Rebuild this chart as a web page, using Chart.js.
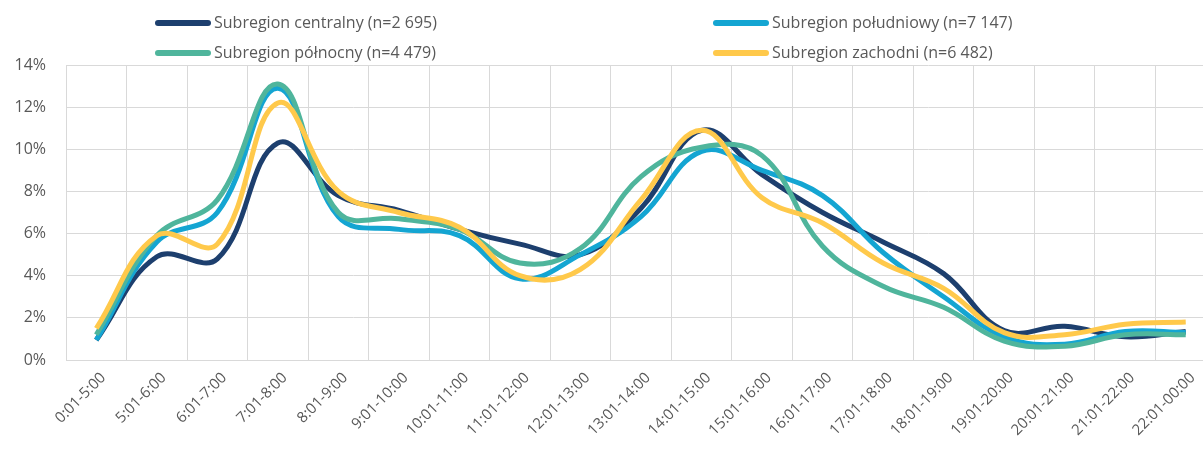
<!DOCTYPE html>
<html>
<head>
<meta charset="utf-8">
<script src="https://cdn.jsdelivr.net/npm/chart.js@4.4.0/dist/chart.umd.min.js"></script>
<style>
  body { margin: 0; overflow: hidden; background: #fff; width: 1203px; height: 463px; position: relative; }
  #wrap { position: absolute; left: 0; top: 0; width: 1235px; height: 463px; }
  .leg { position: absolute; font-family: "Open Sans", sans-serif; font-size: 16px; color: #595959; white-space: nowrap; line-height: 20px; }
  .leg span.sw { display: inline-block; width: 56px; height: 6px; border-radius: 3px; vertical-align: middle; margin-right: 3px; position: relative; top: -1px; }
</style>
</head>
<body>
<div id="wrap"><canvas id="line-chart"></canvas></div>
<div class="leg" style="left:155px; top:12px;"><span class="sw" style="background:#1D3F6E"></span>Subregion centralny (n=2 695)</div>
<div class="leg" style="left:713px; top:12px;"><span class="sw" style="background:#14A5D2"></span>Subregion południowy (n=7 147)</div>
<div class="leg" style="left:155px; top:42px;"><span class="sw" style="background:#4FB59C"></span>Subregion północny (n=4 479)</div>
<div class="leg" style="left:713px; top:42px;"><span class="sw" style="background:#FFC94B"></span>Subregion zachodni (n=6 482)</div>
<script>
// categories and series (percent)
var hours = ["0:01-5:00", "5:01-6:00", "6:01-7:00", "7:01-8:00", "8:01-9:00", "9:01-10:00",
  "10:01-11:00", "11:01-12:00", "12:01-13:00", "13:01-14:00", "14:01-15:00", "15:01-16:00",
  "16:01-17:00", "17:01-18:00", "18:01-19:00", "19:01-20:00", "20:01-21:00", "21:01-22:00", "22:01-00:00"];
var centralny = [0.95, 4.9, 4.8, 10.3, 7.8, 7.1, 6.2, 5.5, 5.0, 7.2, 10.9, 8.8, 7.0, 5.6, 4.1, 1.4, 1.6, 1.1, 1.35];
var poludniowy = [0.95, 5.6, 7.0, 12.9, 6.8, 6.2, 5.9, 3.85, 5.0, 6.8, 9.9, 9.0, 7.8, 5.1, 3.0, 1.1, 0.75, 1.35, 1.3];
var polnocny = [1.2, 5.9, 7.6, 13.1, 7.0, 6.7, 6.2, 4.6, 5.3, 8.7, 10.1, 9.7, 5.4, 3.5, 2.5, 0.9, 0.65, 1.2, 1.2];
var zachodni = [1.5, 5.9, 5.5, 12.2, 8.0, 7.0, 6.3, 4.0, 4.3, 7.6, 10.9, 7.7, 6.5, 4.6, 3.4, 1.3, 1.2, 1.7, 1.8];
var yTicks = [0, 2, 4, 6, 8, 10, 12, 14];

function series(label, values, color, order) {
  return {
    label: label,
    data: values,
    borderColor: color,
    backgroundColor: color,
    borderWidth: 5,
    pointRadius: 0,
    tension: 0.4,
    fill: false,
    order: order,
  };
}

var ctx = document.getElementById("line-chart").getContext("2d");
var myLineChart = new Chart(ctx, {
  type: "line",
  data: {
    labels: hours,
    datasets: [
      series("Subregion centralny (n=2 695)", centralny, "#1D3F6E", 4),
      series("Subregion południowy (n=7 147)", poludniowy, "#14A5D2", 3),
      series("Subregion północny (n=4 479)", polnocny, "#4FB59C", 2),
      series("Subregion zachodni (n=6 482)", zachodni, "#FFC94B", 1),
    ],
  },
  options: {
    responsive: true,
    maintainAspectRatio: false,
    animation: false,
    layout: {
      padding: { top: 65, right: 19, bottom: 0, left: 0 },
    },
    plugins: {
      legend: { display: false },
      title: { display: false },
      tooltip: { enabled: false },
    },
    scales: {
      x: {
        offset: true,
        grid: {
          offset: true,
          color: "#d9d9d9",
          drawTicks: false,
        },
        border: { color: "#d9d9d9" },
        ticks: {
          color: "#595959",
          font: { family: "Open Sans", size: 15 },
          minRotation: 45,
          maxRotation: 45,
          padding: 9,
          labelOffset: 7,
          autoSkip: false,
        },
        afterFit: function (axis) {
          axis.height = 103;
        },
      },
      y: {
        min: 0,
        max: 14,
        afterBuildTicks: function (axis) {
          axis.ticks = yTicks.map(function (v) { return { value: v }; });
        },
        grid: {
          color: "#d9d9d9",
          drawTicks: false,
        },
        border: { display: false },
        ticks: {
          color: "#595959",
          font: { family: "Open Sans", size: 16 },
          padding: 20,
          callback: function (v) { return v + "%"; },
        },
        afterFit: function (axis) {
          axis.width = 66;
        },
      },
    },
  },
});
</script>
</body>
</html>
